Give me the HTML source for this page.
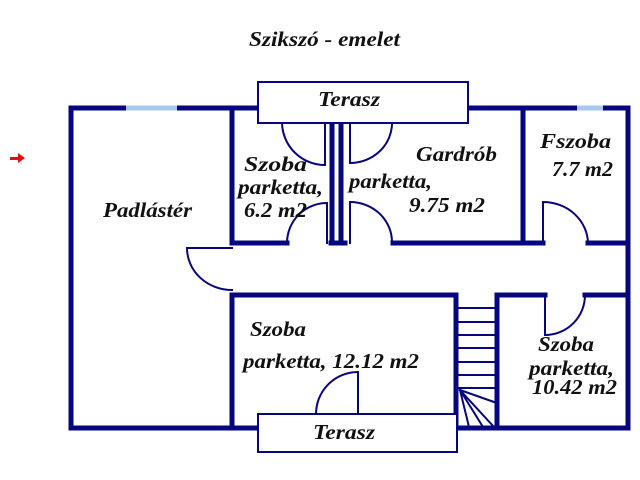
<!DOCTYPE html>
<html><head><meta charset="utf-8"><style>
html,body{margin:0;padding:0;background:#fff;width:640px;height:480px;overflow:hidden}
svg{display:block}
text{font-family:"Liberation Serif",serif;font-weight:bold;font-style:italic;fill:#111}
</style></head><body>
<svg width="640" height="480" viewBox="0 0 640 480" xmlns="http://www.w3.org/2000/svg">
<text x="249" y="46" font-size="21" textLength="151" lengthAdjust="spacingAndGlyphs">Szikszó - emelet</text>
<path d="M10 157 H18 V153 L25 158 L18 163 V160 H10 Z" fill="#e01010"/>
<g stroke="#06067e" fill="none" stroke-linecap="square">
<g stroke-width="5">
<path d="M71 108 H258"/>
<path d="M71 108 V428"/>
<path d="M468 108 H628 V428"/>
<path d="M71 428 H258"/>
<path d="M457 428 H628"/>
<path d="M232 108 V243 H287"/>
<path d="M232 295 V428"/>
<path d="M331 243 H345"/>
<path d="M393 243 H543"/>
<path d="M588 243 H628"/>
<path d="M523 108 V243"/>
<path d="M232 295 H456"/>
<path d="M497 295 H545"/>
<path d="M585 295 H628"/>
<path d="M456 295 V428"/>
<path d="M497 295 V428"/>
<path d="M332 122 V243"/>
<path d="M341 122 V243"/>
</g>
<path d="M126 108 H177" stroke="#a8c8ec" stroke-width="5" stroke-linecap="butt"/>
<path d="M577 108 H603" stroke="#a8c8ec" stroke-width="5" stroke-linecap="butt"/>
<g stroke-width="2">
<rect x="258" y="82" width="210" height="41" fill="#fff"/>
<rect x="258" y="414" width="199" height="38" fill="#fff"/>
<path d="M325 123 V165 A43 43 0 0 1 282 123"/>
<path d="M350 123 V163 A42 40 0 0 0 392 123"/>
<path d="M287 243 A40 40 0 0 1 327 203 V243"/>
<path d="M350 202 A42 40 0 0 1 392 243 V243"/>
<path d="M350 202 V243"/>
<path d="M543 243 V202 A45 42 0 0 1 588 243"/>
<path d="M232 248 H187 A45 42 0 0 0 232 290"/>
<path d="M545 295 V335 A40 40 0 0 0 585 295"/>
<path d="M316 414 A42 42 0 0 1 358 372 V414"/>
<path d="M458 308 H494 M458 322 H494 M458 335 H494 M458 348 H494 M458 362 H494 M458 375 H494 M458 388 H494"/>
<path d="M460 390 L494 402 M460 390 L494 427 M460 390 L483 427 M460 390 L469 427"/>
</g>
</g>
<g font-size="21">
<text x="103" y="217" textLength="89" lengthAdjust="spacingAndGlyphs">Padlástér</text>
<text x="318" y="106" textLength="62" lengthAdjust="spacingAndGlyphs">Terasz</text>
<text x="313" y="439" textLength="62" lengthAdjust="spacingAndGlyphs">Terasz</text>
<text x="244" y="171" textLength="63" lengthAdjust="spacingAndGlyphs">Szoba</text>
<text x="238" y="194" textLength="85" lengthAdjust="spacingAndGlyphs">parketta,</text>
<text x="244" y="217" textLength="63" lengthAdjust="spacingAndGlyphs">6.2 m2</text>
<text x="416" y="161" textLength="81" lengthAdjust="spacingAndGlyphs">Gardrób</text>
<text x="349" y="188" textLength="83" lengthAdjust="spacingAndGlyphs">parketta,</text>
<text x="409" y="212" textLength="76" lengthAdjust="spacingAndGlyphs">9.75 m2</text>
<text x="540" y="148" textLength="71" lengthAdjust="spacingAndGlyphs">Fszoba</text>
<text x="552" y="176" textLength="61" lengthAdjust="spacingAndGlyphs">7.7 m2</text>
<text x="250" y="336" textLength="56" lengthAdjust="spacingAndGlyphs">Szoba</text>
<text x="243" y="368" textLength="176" lengthAdjust="spacingAndGlyphs">parketta, 12.12 m2</text>
<text x="538" y="351" textLength="56" lengthAdjust="spacingAndGlyphs">Szoba</text>
<text x="529" y="375" textLength="85" lengthAdjust="spacingAndGlyphs">parketta,</text>
<text x="532" y="394" textLength="85" lengthAdjust="spacingAndGlyphs">10.42 m2</text>
</g>
</svg>
</body></html>
